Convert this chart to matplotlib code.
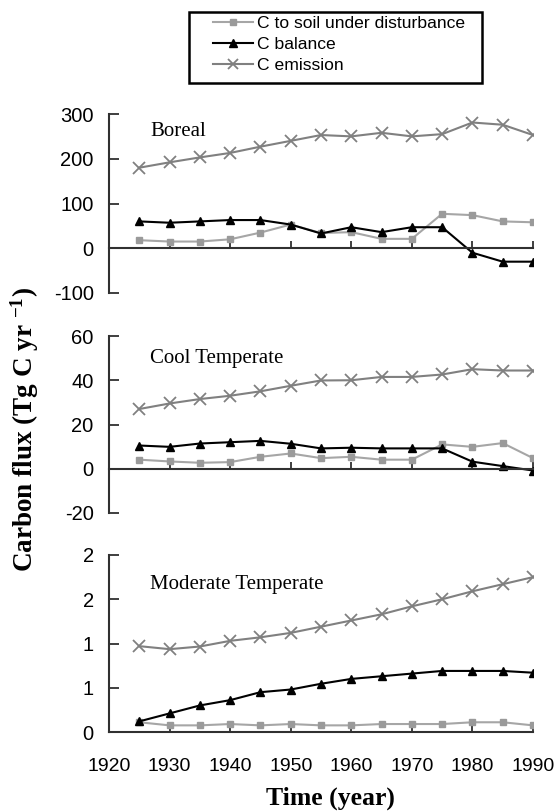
import numpy as np
import matplotlib
matplotlib.use('Agg')
import matplotlib.pyplot as plt
from matplotlib.patches import Rectangle
from matplotlib.lines import Line2D
from matplotlib.ticker import FixedLocator, FuncFormatter

# --- data ---
years = [1925, 1930, 1935, 1940, 1945, 1950, 1955, 1960, 1965, 1970, 1975, 1980, 1985, 1990]

boreal_soil = [18, 15, 15, 20, 35, 53, 34, 36, 21, 21, 77, 74, 60, 58]
boreal_balance = [60, 57, 60, 63, 63, 53, 33, 47, 36, 47, 47, -10, -30, -30]
boreal_emission = [180, 192, 203, 213, 227, 240, 253, 250, 258, 250, 255, 281, 276, 253]

cool_soil = [4.1, 3.3, 2.7, 3.0, 5.4, 6.9, 4.8, 5.4, 4.1, 4.1, 11.0, 9.9, 11.6, 4.8]
cool_balance = [10.5, 9.9, 11.4, 12.0, 12.6, 11.3, 9.2, 9.5, 9.2, 9.2, 9.2, 3.2, 1.2, -0.8]
cool_emission = [27.0, 29.5, 31.5, 33.0, 35.0, 37.5, 39.9, 40.0, 41.5, 41.5, 42.6, 45.0, 44.4, 44.4]

mod_soil = [0.11, 0.075, 0.075, 0.09, 0.075, 0.09, 0.075, 0.075, 0.09, 0.09, 0.09, 0.11, 0.11, 0.075]
mod_balance = [0.12, 0.21, 0.30, 0.36, 0.45, 0.48, 0.545, 0.60, 0.63, 0.66, 0.69, 0.69, 0.69, 0.67]
mod_emission = [0.97, 0.936, 0.966, 1.03, 1.07, 1.12, 1.19, 1.26, 1.33, 1.42, 1.50, 1.59, 1.67, 1.75]

panels = [
    ('Boreal', boreal_soil, boreal_balance, boreal_emission, (-100, 300), [-100, 0, 100, 200, 300]),
    ('Cool Temperate', cool_soil, cool_balance, cool_emission, (-20, 60), [-20, 0, 20, 40, 60]),
    ('Moderate Temperate', mod_soil, mod_balance, mod_emission, (0, 2), [0, 0.5, 1.0, 1.5, 2.0]),
]
series_labels = ['C to soil under disturbance', 'C balance', 'C emission']

SANS = 'Liberation Sans'
SERIF = 'Liberation Serif'
plt.rcParams['font.family'] = SANS
plt.rcParams['mathtext.default'] = 'regular'
plt.rcParams['axes.unicode_minus'] = False

W, H = 558, 811
fig = plt.figure(figsize=(W / 100, H / 100), dpi=100)

# axes boxes in pixels: (top, bottom)
boxes = [(114, 293), (336, 513), (555, 732)]
left_px, right_px = 109, 533

SPINE = '#303030'
soil_kw = dict(color='#a6a6a6', lw=1.5, marker='s', ms=4.5, mfc='#9a9a9a', mec='#9a9a9a')
bal_kw = dict(color='black', lw=1.5, marker='^', ms=5.5, mfc='black', mec='black')
emi_kw = dict(color='#808080', lw=1.5, marker='x', ms=8.5, mew=1.3)


def half_up(v, pos):
    return str(int(np.floor(v + 0.5)))


for (name, soil, bal, emi, ylim, yticks), (top, bot) in zip(panels, boxes):
    ax = fig.add_axes([left_px / W, 1 - bot / H, (right_px - left_px) / W, (bot - top) / H])
    ax.plot(years, soil, **soil_kw)
    ax.plot(years, bal, **bal_kw)
    ax.plot(years, emi, **emi_kw)
    ax.set_xlim(1920, 1990)
    ax.set_ylim(*ylim)
    ax.set_xticks(range(1920, 1991, 10))
    ax.yaxis.set_major_locator(FixedLocator(yticks))
    if name == 'Moderate Temperate':
        ax.yaxis.set_major_formatter(FuncFormatter(half_up))
    else:
        ax.spines['bottom'].set_position(('data', 0))
        ax.tick_params(axis='x', labelbottom=False)
    for s in ['top', 'right']:
        ax.spines[s].set_visible(False)
    for s in ['left', 'bottom']:
        ax.spines[s].set_color(SPINE)
        ax.spines[s].set_linewidth(1.5)
    ax.tick_params(axis='y', direction='in', length=7, width=1.3, color=SPINE,
                   labelsize=14.5, pad=11)
    ax.tick_params(axis='x', direction='in', length=5, width=1.3, color=SPINE,
                   labelsize=14, pad=19)
    ax.patch.set_visible(False)
    label_y = {'Boreal': 132, 'Cool Temperate': 358, 'Moderate Temperate': 585}[name]
    fig.text(150 / W, 1 - label_y / H, name, family=SERIF, fontsize=15,
             ha='left', va='center')

fig.text(25 / W, 1 - 430 / H, 'Carbon flux (Tg C yr $^{-1}$)', family=SERIF,
         fontweight='bold', fontsize=19.5, rotation=90, ha='center', va='center')
fig.text(330 / W, 1 - 798 / H, 'Time (year)', family=SERIF, fontweight='bold',
         fontsize=18.5, ha='center', va='center')

# legend
handles = [Line2D([], [], **soil_kw), Line2D([], [], **bal_kw), Line2D([], [], **emi_kw)]
handles[2].set_markersize(7)
fig.legend(handles, series_labels, loc='upper left',
           bbox_to_anchor=(213 / W, 1 - 16 / H), frameon=False, borderpad=0,
           borderaxespad=0, fontsize=12.6, handlelength=2.3, handletextpad=0.2,
           labelspacing=0.32)
fig.patches.append(Rectangle((189 / W, 1 - 83 / H), (482 - 189) / W, (83 - 12) / H,
                             transform=fig.transFigure, fill=False,
                             edgecolor='black', lw=1.8))

fig.savefig('out.png', dpi=100)
